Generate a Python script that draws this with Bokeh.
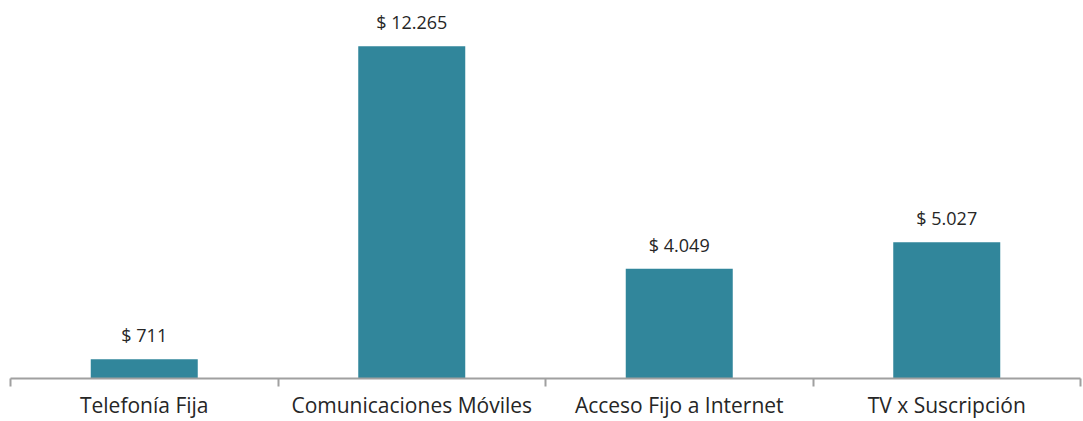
from bokeh.plotting import figure
from bokeh.models import ColumnDataSource, Range1d, FixedTicker
from bokeh.core.properties import value
from bokeh.embed import file_html
from bokeh.resources import INLINE

categories = ["Telefonía Fija", "Comunicaciones Móviles", "Acceso Fijo a Internet", "TV x Suscripción"]
values = [711, 12265, 4049, 5027]
labels = ["$ " + f"{v:,}".replace(",", ".") for v in values]

xs = [i + 0.5 for i in range(len(categories))]
src = ColumnDataSource(dict(x=xs, top=values, label=labels))

FONT = "Open Sans"
p = figure(width=1083, height=421, output_backend="svg", toolbar_location=None,
           x_range=Range1d(0, len(categories)), y_range=Range1d(0, 13959),
           min_border_left=10, min_border_right=3, min_border_top=0, min_border_bottom=42)
p.outline_line_color = None
p.grid.grid_line_color = None
p.yaxis.visible = False
p.background_fill_color = "white"

p.vbar(x="x", top="top", width=0.4, source=src, color="#31869B", line_color=None)
p.text(x="x", y="top", text="label", source=src, text_align="center", text_baseline="middle",
       y_offset=-24, text_font=value(FONT), text_font_size="18px", text_color="#262626")

ax = p.xaxis[0]
ax.ticker = FixedTicker(ticks=xs, minor_ticks=list(range(len(categories) + 1)))
ax.major_label_overrides = {x: c for x, c in zip(xs, categories)}
ax.major_tick_line_color = None
ax.major_tick_out = 0
ax.major_tick_in = 0
ax.minor_tick_out = 8
ax.minor_tick_in = 0
ax.minor_tick_line_color = "#A0A0A0"
ax.minor_tick_line_width = 2
ax.axis_line_color = "#A0A0A0"
ax.axis_line_width = 2
ax.major_label_standoff = 4
ax.major_label_text_font = FONT
ax.major_label_text_font_size = "21px"
ax.major_label_text_color = "#262626"

open("out.html", "w").write(file_html(p, INLINE))
